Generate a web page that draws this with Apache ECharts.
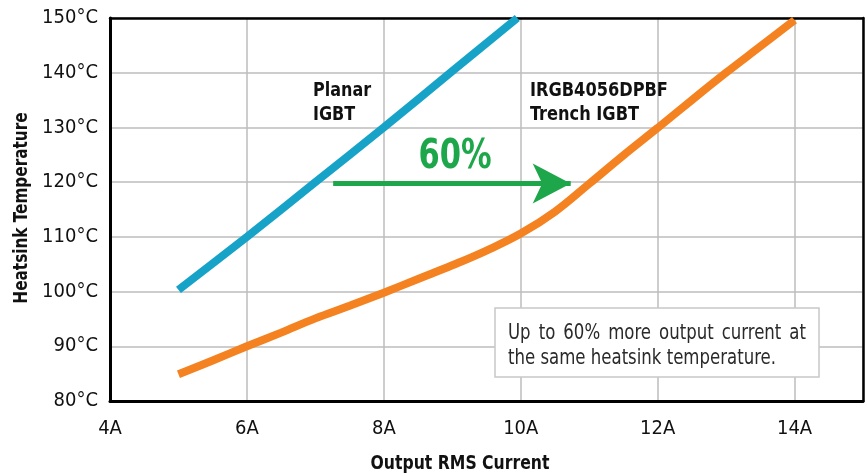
<!DOCTYPE html>
<html>
<head>
<meta charset="utf-8">
<script src="https://cdn.jsdelivr.net/npm/echarts@6/dist/echarts.min.js"></script>
<style>
html,body{margin:0;padding:0;background:#fff;}
#c{width:867px;height:476px;}
</style>
</head>
<body>
<div id="c"></div>
<script>
// ---- data ----
const planarCurrent = [5, 6, 7, 8, 9, 9.95];
const planarTemp    = [100.3, 110, 120, 130, 140.3, 150];
const trenchCurrent = [5, 5.5, 6, 6.5, 7, 7.5, 8, 8.5, 9, 9.5, 10, 10.5, 11, 11.5, 12, 12.5, 13, 13.5, 14];
const trenchTemp    = [84.9, 87.4, 90, 92.5, 95.1, 97.4, 99.8, 102.3, 104.8, 107.5, 110.6, 114.6, 119.7, 124.9, 129.9, 135, 140, 144.8, 149.6];
const xTicks = [4, 6, 8, 10, 12, 14];
const yTicks = [80, 90, 100, 110, 120, 130, 140, 150];
const arrowFrom = [7.26, 119.75];
const arrowTo   = [10.73, 119.75];
const noteLine1 = 'Up to 60% more output current at';
const noteLine2 = 'the same heatsink temperature.';

const FONT = '"DejaVu Sans Condensed","Liberation Sans Narrow",sans-serif';
const BLUE = '#17a3c8', ORANGE = '#f58220', GREEN = '#1ea64b';

const chart = echarts.init(document.getElementById('c'), null, {renderer: 'canvas'});

function zip(a, b) { return a.map((v, i) => [v, b[i]]); }

// note text: condensed, first line justified
const cv = document.createElement('canvas').getContext('2d');
const noteFs = 22;
const noteFont = noteFs + 'px ' + FONT;
cv.font = noteFont;
const noteLeft = 508, noteWidth = 298, line2Width = 268;
const noteScale = line2Width / cv.measureText(noteLine2).width;
const words = noteLine1.split(' ');
const wW = words.map(w => cv.measureText(w).width * noteScale);
const gap = (noteWidth - wW.reduce((s, v) => s + v, 0)) / (words.length - 1);
const noteGraphics = [];
let xx = noteLeft;
words.forEach((w, i) => {
  noteGraphics.push({type: 'text', x: xx, y: 333, z: 101, scaleX: noteScale,
    style: {text: w, font: noteFont, fill: '#2a2a2a', textVerticalAlign: 'middle'}});
  xx += wW[i] + gap;
});
noteGraphics.push({type: 'text', x: noteLeft, y: 358, z: 101, scaleX: noteScale,
  style: {text: noteLine2, font: noteFont, fill: '#2a2a2a', textVerticalAlign: 'middle'}});

const edgeAxis = {
  type: 'value', min: 4, max: 15, interval: 2,
  axisLine: {show: true, lineStyle: {color: '#000', width: 2.5}},
  axisTick: {show: false}, axisLabel: {show: false}, splitLine: {show: false}
};

const option = {
  animation: false,
  backgroundColor: '#fff',
  grid: {left: 110, right: 4, top: 18, bottom: 75, containLabel: false},
  xAxis: [{
    type: 'value', min: 4, max: 15, interval: 2,
    axisLine: {show: true, lineStyle: {color: '#000', width: 3}},
    axisTick: {show: false},
    splitLine: {show: true, lineStyle: {color: '#bdbdbd', width: 1.5}},
    axisLabel: {fontFamily: FONT, fontSize: 20, color: '#111', margin: 18,
      formatter: v => xTicks.indexOf(v) >= 0 ? v + 'A' : ''}
  }, Object.assign({}, edgeAxis, {position: 'top'})],
  yAxis: [{
    type: 'value', min: 80, max: 150, interval: 10,
    axisLine: {show: true, lineStyle: {color: '#000', width: 3}},
    axisTick: {show: false},
    splitLine: {show: true, lineStyle: {color: '#bdbdbd', width: 1.5}},
    axisLabel: {fontFamily: FONT, fontSize: 20, color: '#111', margin: 12,
      formatter: v => yTicks.indexOf(v) >= 0 ? v + '°C' : ''}
  }, Object.assign({}, edgeAxis, {min: 80, max: 150, interval: 10, position: 'right'})],
  series: [
    {
      type: 'line', name: 'Planar IGBT', data: zip(planarCurrent, planarTemp),
      smooth: 0.3, symbol: 'none', lineStyle: {color: BLUE, width: 8, cap: 'butt'}, z: 3,
      markLine: {
        silent: true, symbol: ['none', 'arrow'], symbolSize: [30, 38],
        label: {show: false},
        lineStyle: {color: GREEN, width: 5, type: 'solid'},
        data: [[{coord: arrowFrom}, {coord: arrowTo}]]
      }
    },
    {
      type: 'line', name: 'IRGB4056DPBF Trench IGBT', data: zip(trenchCurrent, trenchTemp),
      smooth: 0.4, symbol: 'none', lineStyle: {color: ORANGE, width: 8, cap: 'butt'}, z: 3
    }
  ],
  graphic: [
    {type: 'text', x: 313, y: 79, z: 100, scaleX: 0.89,
      style: {text: 'Planar\nIGBT', font: 'bold 20px ' + FONT, fill: '#111', lineHeight: 24, textVerticalAlign: 'top'}},
    {type: 'text', x: 530, y: 79, z: 100, scaleX: 0.9,
      style: {text: 'IRGB4056DPBF\nTrench IGBT', font: 'bold 20px ' + FONT, fill: '#111', lineHeight: 24, textVerticalAlign: 'top'}},
    {type: 'text', x: 455, y: 158, z: 100, scaleX: 0.85,
      style: {text: '60%', font: 'bold 40px ' + FONT, fill: GREEN, textAlign: 'center', textVerticalAlign: 'middle'}},
    {type: 'rect', z: 100, shape: {x: 495, y: 308, width: 324, height: 69},
      style: {fill: '#fff', stroke: '#c8c8c8', lineWidth: 1.5}},
    {type: 'text', x: 460, y: 464, z: 100, scaleX: 0.87,
      style: {text: 'Output RMS Current', font: 'bold 20px ' + FONT, fill: '#111', textAlign: 'center', textVerticalAlign: 'middle'}},
    {type: 'text', x: 22, y: 208, rotation: Math.PI / 2, z: 100, scaleX: 0.85,
      style: {text: 'Heatsink Temperature', font: 'bold 20px ' + FONT, fill: '#111', textAlign: 'center', textVerticalAlign: 'middle'}}
  ].concat(noteGraphics)
};
chart.setOption(option);
</script>
</body>
</html>
